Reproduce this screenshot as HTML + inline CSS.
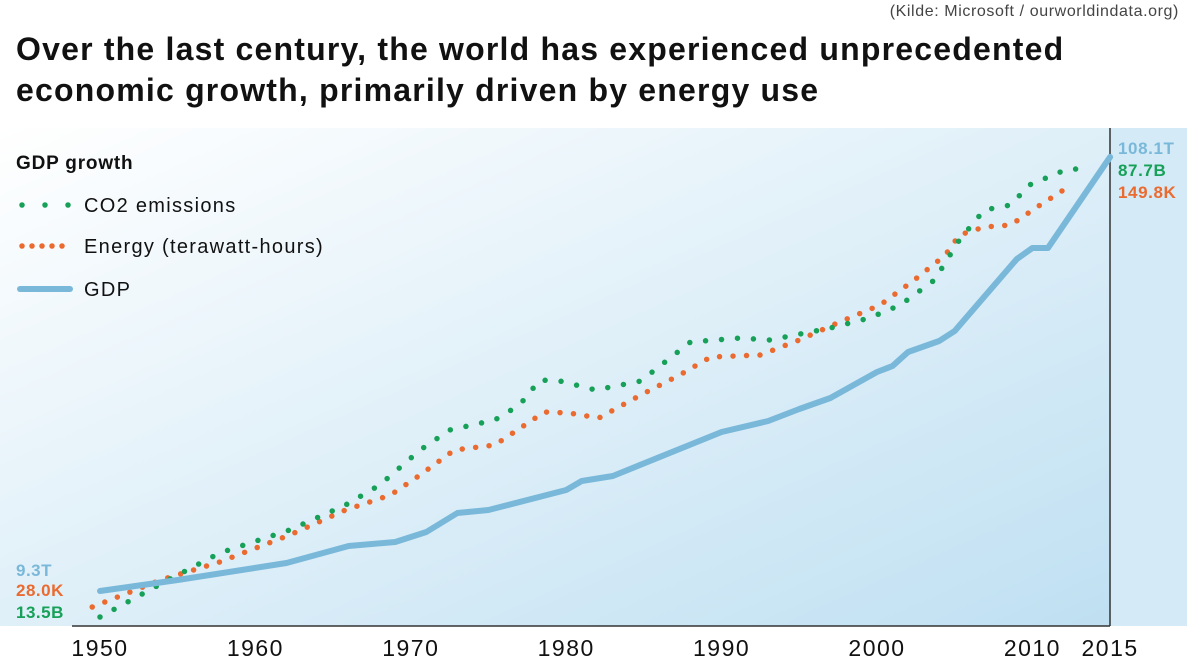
<!DOCTYPE html>
<html><head><meta charset="utf-8"><style>
body{margin:0;width:1191px;height:659px;overflow:hidden;background:#fff;font-family:"Liberation Sans",sans-serif;position:relative}
</style></head><body>
<div style="position:absolute;right:12px;top:3px;font-size:16px;letter-spacing:0.6px;color:#444">(Kilde: Microsoft / ourworldindata.org)</div>
<div style="position:absolute;left:16px;top:29px;font-size:32px;letter-spacing:1.2px;font-weight:bold;line-height:41px;color:#111;white-space:nowrap">Over the last century, the world has experienced unprecedented<br>economic growth, primarily driven by energy use</div>
<svg id="c" width="1191" height="659" style="position:absolute;left:0;top:0">
<defs><linearGradient id="g" x1="0" y1="0" x2="1" y2="1"><stop offset="0" stop-color="#ffffff"/><stop offset="1" stop-color="#bfe0f2"/></linearGradient></defs>
<rect x="0" y="128" width="1110" height="498" fill="url(#g)"/>
<rect x="1110" y="128" width="77" height="498" fill="#d4eaf6"/>
<line x1="1110" y1="128" x2="1110" y2="626" stroke="#333" stroke-width="1.5"/>
<line x1="72" y1="626" x2="1110" y2="626" stroke="#333" stroke-width="1.5"/>
<g id="ticks"></g><g id="series"></g>
<text x="16" y="169" font-size="19" font-weight="bold" letter-spacing="0.8" fill="#111">GDP growth</text>
<g><line x1="22" y1="205" x2="72" y2="205" stroke="#17a058" stroke-width="5.5" stroke-linecap="round" stroke-dasharray="0 23"/><text x="84" y="212" font-size="20" letter-spacing="1.3" fill="#111">CO2 emissions</text></g>
<g><line x1="22" y1="246" x2="72" y2="246" stroke="#ea6a2f" stroke-width="5.5" stroke-linecap="round" stroke-dasharray="0 10"/><text x="84" y="253" font-size="20" letter-spacing="1.3" fill="#111">Energy (terawatt-hours)</text></g>
<g><line x1="20" y1="289" x2="70" y2="289" stroke="#7ab8da" stroke-width="6" stroke-linecap="round"/><text x="84" y="296" font-size="20" letter-spacing="1.3" fill="#111">GDP</text></g>
<text x="16" y="576" font-size="17" font-weight="bold" letter-spacing="0.5" fill="#7ab8da">9.3T</text>
<text x="16" y="596" font-size="17" font-weight="bold" letter-spacing="0.5" fill="#ea6a2f">28.0K</text>
<text x="16" y="618" font-size="17" font-weight="bold" letter-spacing="0.5" fill="#17a058">13.5B</text>
<text x="1118" y="154" font-size="17" font-weight="bold" letter-spacing="0.6" fill="#7ab8da">108.1T</text>
<text x="1118" y="176" font-size="17" font-weight="bold" letter-spacing="0.6" fill="#17a058">87.7B</text>
<text x="1118" y="198" font-size="17" font-weight="bold" letter-spacing="0.6" fill="#ea6a2f">149.8K</text>
</svg>
<script>
const tickYears=[1950,1960,1970,1980,1990,2000,2010,2015];
const gdpYears=[1950,1955,1962,1966,1969,1971,1973,1975,1980,1981,1983,1990,1993,1995,1997,2000,2001,2002,2004,2005,2009,2010,2011,2015];
const gdpValues=[35,46,63,80,84,94,113,116,136,145,150,194,205,217,228,254,260,274,285,295,367,378,378,469];
const co2Years=[1950,1953.9,1957.7,1962.2,1965.8,1968,1970.6,1972.5,1975.4,1977,1978.3,1979.6,1981.9,1984.8,1988,1991.2,1993.1,1997,1999.5,2001.5,2003.7,2005.3,2006.9,2008.6,2009.8,2012.1,2013.5];
const co2Values=[9,42,73,96,121,141,176,196,206,221,246,245,236,245,284,288,286,298,308,321,346,386,416,421,441,456,458];
const energyYears=[1949.5,1953.9,1957.7,1962.2,1965.8,1968.7,1970.6,1972.8,1975.4,1978.6,1980.2,1982.1,1984.8,1987.3,1989.3,1992.5,1995,1997.6,2000.2,2002.4,2004.4,2005.3,2006.9,2008.6,2010.5,2012.5];
const energyValues=[19,46,64,91,116,131,151,176,181,214,213,208,231,251,269,271,286,304,321,346,371,391,399,401,421,441];
const NS="http://www.w3.org/2000/svg";
const xs=y=>100+(y-1950)*15.54;
const ys=v=>626-v;
const tk=document.getElementById('ticks');
tickYears.forEach(y=>{const t=document.createElementNS(NS,'text');


t.setAttribute('x',xs(y));t.setAttribute('y',656);t.setAttribute('font-size','23');t.setAttribute('letter-spacing','1.5');t.setAttribute('text-anchor','middle');t.setAttribute('fill','#111');t.textContent=y;tk.appendChild(t);});
const sg=document.getElementById('series');
function line(yrs,vals,color,w,dash,name){const p=document.createElementNS(NS,'polyline');


p.setAttribute('points',yrs.map((y,i)=>xs(y)+','+ys(vals[i])).join(' '));
p.setAttribute('fill','none');p.setAttribute('stroke',color);p.setAttribute('stroke-width',w);p.setAttribute('stroke-linecap','round');p.setAttribute('stroke-linejoin','round');
if(dash)p.setAttribute('stroke-dasharray',dash);sg.appendChild(p);}
line(energyYears,energyValues,'#ea6a2f',5.5,'0 13.5','energy-line');
line(co2Years,co2Values,'#17a058',5.5,'0 16','co2-line');
line(gdpYears,gdpValues,'#7ab8da',6,null,'gdp-line');
</script>
</body></html>
